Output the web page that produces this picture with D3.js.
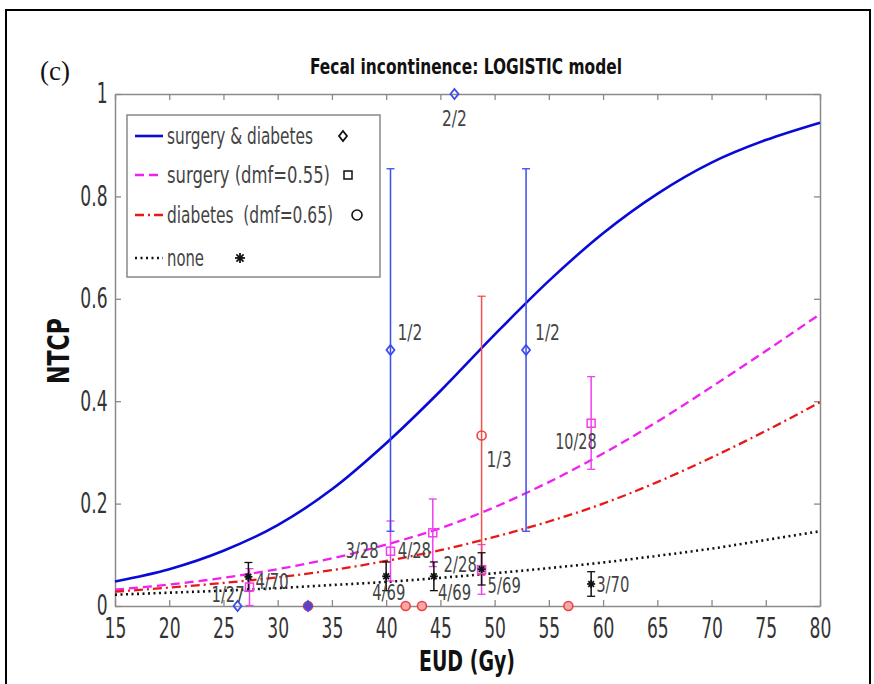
<!DOCTYPE html>
<html>
<head>
<meta charset="utf-8">
<script src="https://cdn.jsdelivr.net/npm/d3@7"></script>
<style>
  body { margin: 0; background: #fff; }
  svg { display: block; }
  text { font-family: "Liberation Sans Narrow", "DejaVu Sans Condensed", "Liberation Sans", sans-serif; white-space: pre; }
</style>
</head>
<body>
<svg id="chart" width="874" height="684"></svg>
<script>
// model curves (EUD in Gy -> NTCP)
const eudGrid      = [15, 20, 25, 30, 35, 40, 45, 50, 55, 60, 65, 70, 75, 80];
const ntcpBoth     = [0.048, 0.072, 0.108, 0.158, 0.228, 0.318, 0.42, 0.53, 0.635, 0.728, 0.805, 0.866, 0.91, 0.944];
const ntcpSurgery  = [0.032, 0.042, 0.055, 0.072, 0.093, 0.12, 0.152, 0.193, 0.242, 0.298, 0.36, 0.428, 0.498, 0.57];
const ntcpDiabetes = [0.028, 0.036, 0.045, 0.056, 0.07, 0.088, 0.109, 0.135, 0.165, 0.2, 0.242, 0.29, 0.342, 0.398];
const ntcpNone     = [0.022, 0.026, 0.03, 0.035, 0.041, 0.047, 0.055, 0.064, 0.074, 0.085, 0.098, 0.112, 0.129, 0.146];

// observed groups: [eud, ntcp, low, high, label]
const bothPts = [
  [26.3, 0, null, null, ""],
  [32.8, 0, null, null, ""],
  [40.4, 0.5, 0.146, 0.854, "1/2"],
  [46.3, 1, null, null, "2/2"],
  [52.9, 0.5, 0.146, 0.854, "1/2"]
];
const surgeryPts = [
  [27.4, 0.037, 0.001, 0.073, "1/27"],
  [40.4, 0.107, 0.049, 0.166, "3/28"],
  [44.3, 0.143, 0.077, 0.209, "4/28"],
  [48.8, 0.071, 0.023, 0.12, "2/28"],
  [58.9, 0.357, 0.267, 0.448, "10/28"]
];
const diabetesPts = [
  [32.8, 0, null, null, ""],
  [41.8, 0, null, null, ""],
  [43.3, 0, null, null, ""],
  [48.8, 0.333, 0.061, 0.605, "1/3"],
  [56.8, 0, null, null, ""]
];
const nonePts = [
  [27.3, 0.057, 0.029, 0.085, "4/70"],
  [40.0, 0.058, 0.030, 0.086, "4/69"],
  [44.4, 0.058, 0.030, 0.086, "4/69"],
  [48.8, 0.072, 0.041, 0.104, "5/69"],
  [58.9, 0.043, 0.019, 0.067, "3/70"]
];
const xTicks = [15, 20, 25, 30, 35, 40, 45, 50, 55, 60, 65, 70, 75, 80];
const yTicks = [0, 0.2, 0.4, 0.6, 0.8, 1];
const legendNames = ["surgery & diabetes", "surgery (dmf=0.55)", "diabetes  (dmf=0.65)", "none"];

// label placement (pixels from the point), same order as the groups above
const labelShift = {
  both:     [null, null, [7, -10, "start"], [0, 32, "middle"], [9, -10, "start"]],
  surgery:  [[-38, 15, "start"], [-45, 7, "start"], [-35, 25, "start"], [-38, 2, "start"], [-36, 26, "start"]],
  diabetes: [null, null, null, [5, 31, "start"], null],
  none:     [[7, 12, "start"], [-14, 24, "start"], [4, 24, "start"], [6, 24, "start"], [5, 8, "start"]]
};

const svg = d3.select("#chart");
const x = d3.scaleLinear().domain([15, 80]).range([115, 820]);
const y = d3.scaleLinear().domain([0, 1]).range([606, 94]);

// outer frame of the figure panel
svg.append("rect").attr("x", 6).attr("y", 10).attr("width", 864).attr("height", 700)
  .attr("fill", "none").attr("stroke", "#000").attr("stroke-width", 2);

svg.append("text").attr("x", 40).attr("y", 80)
  .style("font-family", "'Liberation Serif', 'DejaVu Serif', serif")
  .attr("font-size", 27).attr("fill", "#111").text("(c)");

svg.append("text").attr("x", 466).attr("y", 74).attr("text-anchor", "middle")
  .attr("font-size", 22).attr("font-weight", "bold").attr("fill", "#111")
  .attr("textLength", 312).attr("lengthAdjust", "spacingAndGlyphs")
  .text("Fecal incontinence: LOGISTIC model");

const axisColor = "#8a8a8a";
function styleAxis(g) {
  g.select(".domain").attr("stroke", axisColor).attr("stroke-width", 1.5);
  g.selectAll(".tick line").attr("stroke", axisColor).attr("stroke-width", 1.3);
  g.selectAll(".tick text").attr("fill", "#333").attr("font-size", 28);
}

const gx = svg.append("g").attr("transform", "translate(0,606)")
  .call(d3.axisBottom(x).tickValues(xTicks).tickSizeInner(-6).tickSizeOuter(0).tickFormat(d3.format("d")));
styleAxis(gx);
gx.selectAll(".tick text").attr("y", 12).attr("transform", "scale(0.68,1)");

svg.append("g").attr("transform", "translate(0,94)")
  .call(d3.axisTop(x).tickValues(xTicks).tickSizeInner(-6).tickSizeOuter(0).tickFormat(""))
  .call(styleAxis);

const gy = svg.append("g").attr("transform", "translate(115,0)")
  .call(d3.axisLeft(y).tickValues(yTicks).tickSizeInner(-6).tickSizeOuter(0)
    .tickFormat(d => (d === 0 || d === 1) ? d3.format("d")(d) : d3.format(".1f")(d)));
styleAxis(gy);
gy.selectAll(".tick text").attr("x", -11).attr("transform", "scale(0.68,1)");

svg.append("g").attr("transform", "translate(820,0)")
  .call(d3.axisRight(y).tickValues(yTicks).tickSizeInner(-6).tickSizeOuter(0).tickFormat(""))
  .call(styleAxis);

svg.append("text").attr("x", 467).attr("y", 671).attr("text-anchor", "middle")
  .attr("font-size", 28).attr("font-weight", "bold").attr("fill", "#111")
  .attr("textLength", 96).attr("lengthAdjust", "spacingAndGlyphs").text("EUD (Gy)");

svg.append("text").attr("transform", "translate(69,351) rotate(-90)").attr("text-anchor", "middle")
  .attr("font-size", 30).attr("font-weight", "bold").attr("fill", "#111")
  .attr("textLength", 66).attr("lengthAdjust", "spacingAndGlyphs").text("NTCP");

// model curves
const series = [
  { vals: ntcpBoth, color: "#0a0ad8", dash: null, width: 2.6 },
  { vals: ntcpSurgery, color: "#f020f0", dash: "9,5", width: 2.3 },
  { vals: ntcpDiabetes, color: "#e81818", dash: "9,4,2,4", width: 2.3 },
  { vals: ntcpNone, color: "#111", dash: "2,3.5", width: 2.6 }
];
const line = d3.line().x(d => x(d[0])).y(d => y(d[1])).curve(d3.curveMonotoneX);
series.forEach(s => {
  svg.append("path").datum(eudGrid.map((e, i) => [e, s.vals[i]]))
    .attr("d", line).attr("fill", "none").attr("stroke", s.color)
    .attr("stroke-width", s.width).attr("stroke-dasharray", s.dash);
});

// markers
function drawMarker(g, kind, cx, cy, color, size, fill) {
  if (kind === "diamond") {
    g.append("path").attr("d", `M${cx},${cy - size} L${cx + size * 0.8},${cy} L${cx},${cy + size} L${cx - size * 0.8},${cy} Z`)
      .attr("fill", fill).attr("stroke", color).attr("stroke-width", 1.8);
  } else if (kind === "square") {
    g.append("rect").attr("x", cx - size * 0.8).attr("y", cy - size * 0.8)
      .attr("width", size * 1.6).attr("height", size * 1.6)
      .attr("fill", fill).attr("stroke", color).attr("stroke-width", 1.5);
  } else if (kind === "circle") {
    g.append("circle").attr("cx", cx).attr("cy", cy).attr("r", size)
      .attr("fill", fill).attr("stroke", color).attr("stroke-width", 1.6);
  } else {
    [0, 45, 90, 135].forEach(a => {
      const r = a * Math.PI / 180;
      g.append("line").attr("x1", cx - size * Math.cos(r)).attr("y1", cy - size * Math.sin(r))
        .attr("x2", cx + size * Math.cos(r)).attr("y2", cy + size * Math.sin(r))
        .attr("stroke", color).attr("stroke-width", 1.8);
    });
  }
}

const groups = [
  { pts: surgeryPts, key: "surgery", kind: "square", color: "#f040f0", bar: "#f040f0", fill: "none" },
  { pts: diabetesPts, key: "diabetes", kind: "circle", color: "#f04040", bar: "#f25050", fill: "none" },
  { pts: bothPts, key: "both", kind: "diamond", color: "#3b4bf0", bar: "#3b4bf0", fill: "none" },
  { pts: nonePts, key: "none", kind: "star", color: "#111", bar: "#111", fill: "none" }
];

const marks = svg.append("g");
groups.forEach(gr => {
  gr.pts.forEach(p => {
    if (p[2] === null) return;
    const px = x(p[0]);
    marks.append("line").attr("x1", px).attr("x2", px).attr("y1", y(p[2])).attr("y2", y(p[3]))
      .attr("stroke", gr.bar).attr("stroke-width", 1.5);
    [p[2], p[3]].forEach(v => {
      marks.append("line").attr("x1", px - 4).attr("x2", px + 4).attr("y1", y(v)).attr("y2", y(v))
        .attr("stroke", gr.bar).attr("stroke-width", 1.3);
    });
  });
});
groups.forEach(gr => {
  gr.pts.forEach(p => {
    let fill = gr.fill;
    if (p[1] === 0 && gr.kind === "circle") fill = p[0] < 35 ? "#7a3a9a" : "#f7a8a8";
    if (p[1] === 0 && gr.kind === "diamond") fill = p[0] < 35 ? "none" : "#8a9af8";
    const sz = gr.kind === "circle" ? 4.5 : gr.kind === "star" ? 4 : 5;
    drawMarker(marks, gr.kind, x(p[0]), y(p[1]), gr.color, sz, fill);
  });
});

// point labels
groups.forEach(gr => {
  gr.pts.forEach((p, i) => {
    const sh = labelShift[gr.key][i];
    if (!sh || !p[4]) return;
    svg.append("text").attr("x", x(p[0]) + sh[0]).attr("y", y(p[1]) + sh[1])
      .attr("text-anchor", sh[2]).attr("font-size", 22).attr("fill", "#444")
      .attr("textLength", p[4].length * 8.3).attr("lengthAdjust", "spacingAndGlyphs")
      .text(p[4]);
  });
});

// legend
const leg = svg.append("g");
leg.append("rect").attr("x", 127).attr("y", 115).attr("width", 253).attr("height", 162)
  .attr("fill", "#fff").attr("stroke", "#888").attr("stroke-width", 1.5);
const legRows = [136, 175, 215, 258];
const legWidths = [146, 163, 166, 37];
const legMarker = [["diamond", 343], ["square", 348], ["circle", 357], ["star", 240]];
legendNames.forEach((name, i) => {
  const s = series[i];
  leg.append("line").attr("x1", 135).attr("x2", 163).attr("y1", legRows[i]).attr("y2", legRows[i])
    .attr("stroke", s.color).attr("stroke-width", s.width).attr("stroke-dasharray", s.dash);
  leg.append("text").attr("x", 167).attr("y", legRows[i] + 8).attr("font-size", 23).attr("fill", "#444")
    .attr("textLength", legWidths[i]).attr("lengthAdjust", "spacingAndGlyphs").text(name);
  drawMarker(leg, legMarker[i][0], legMarker[i][1], legRows[i], "#111", 5, "none");
});
</script>
</body>
</html>
